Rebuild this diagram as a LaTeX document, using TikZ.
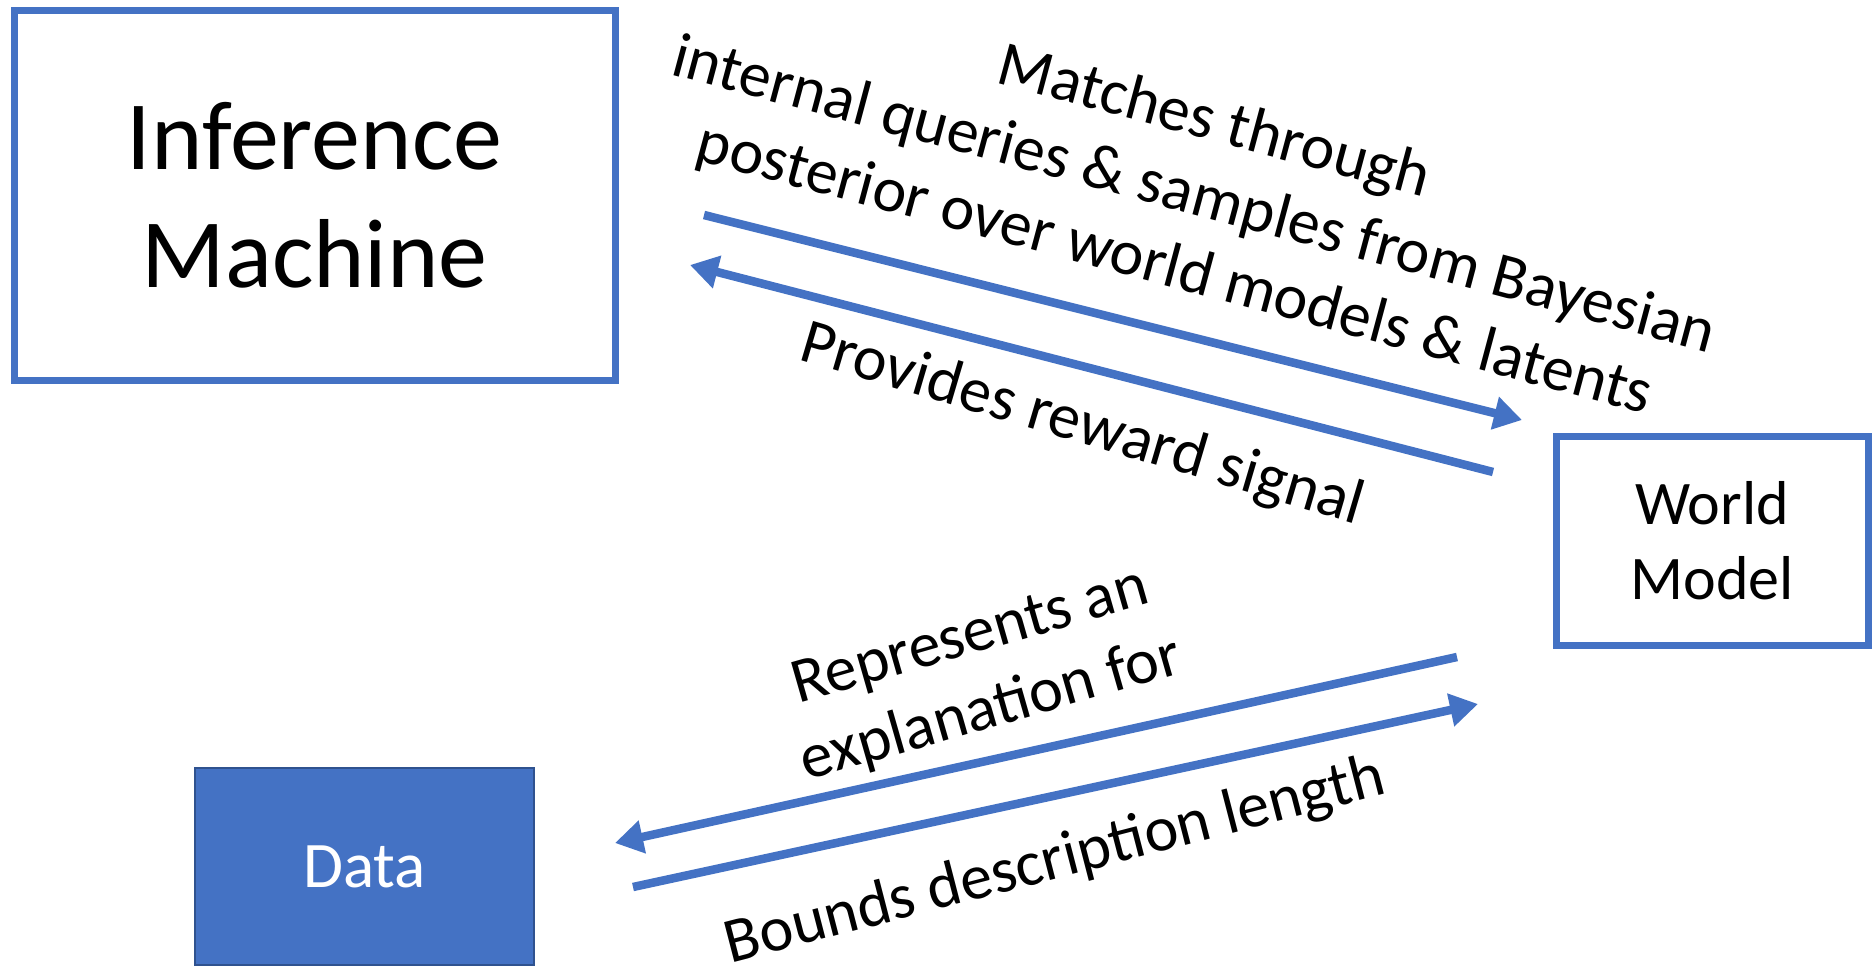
\documentclass[tikz,border=0pt]{standalone}
\usepackage{fontspec}
\setmainfont{Carlito}
\usetikzlibrary{arrows.meta}
\definecolor{accent}{HTML}{4472C4}
\definecolor{accentdark}{HTML}{2F528F}
\begin{document}
\begin{tikzpicture}[x=1pt,y=-1pt,
  box/.style={draw=accent, line width=7pt, fill=white, inner sep=0pt, align=center, text=black},
  flow/.style={draw=accent, line width=8.5pt, -{Triangle[length=28pt,width=32pt]}},
  lbl/.style={font=\fontsize{64}{76}\selectfont, align=center, inner sep=0pt}]
\useasboundingbox[fill=white] (0,0) rectangle (1872,972);
\node[box, minimum width=601pt, minimum height=370pt, font=\fontsize{98}{118}\selectfont] (im) at (314.5,195) {Inference\\Machine};
\node[box, minimum width=312pt, minimum height=209pt, font=\fontsize{62}{75}\selectfont] (wm) at (1712,540.5) {World\\Model};
\node[draw=accentdark, line width=2pt, fill=accent, text=white, inner sep=0pt, minimum width=339pt, minimum height=197pt, font=\fontsize{65}{78}\selectfont] (data) at (364.5,866.5) {Data};
\coordinate (a1s) at (704,215);
\coordinate (a1e) at (1522,420);
\coordinate (a2s) at (1493,472);
\coordinate (a2e) at (690,265);
\coordinate (a3s) at (1457,657);
\coordinate (a3e) at (615,843);
\coordinate (a4s) at (633,887);
\coordinate (a4e) at (1478,704);
\draw[flow] (a1s) -- (a1e);
\draw[flow] (a2s) -- (a2e);
\draw[flow] (a3s) -- (a3e);
\draw[flow] (a4s) -- (a4e);
\node[lbl, rotate=-15] (t1) at (1194,197) {Matches through\\internal queries \& samples from Bayesian\\posterior over world models \& latents};
\node[lbl, rotate=-16.5] (t2) at (1082,426) {Provides reward signal};
\node[lbl, rotate=16] (t3) at (981,675) {Represents an\\explanation for};
\node[lbl, rotate=14.5] (t4) at (1055,862) {Bounds description length};
\end{tikzpicture}
\end{document}
